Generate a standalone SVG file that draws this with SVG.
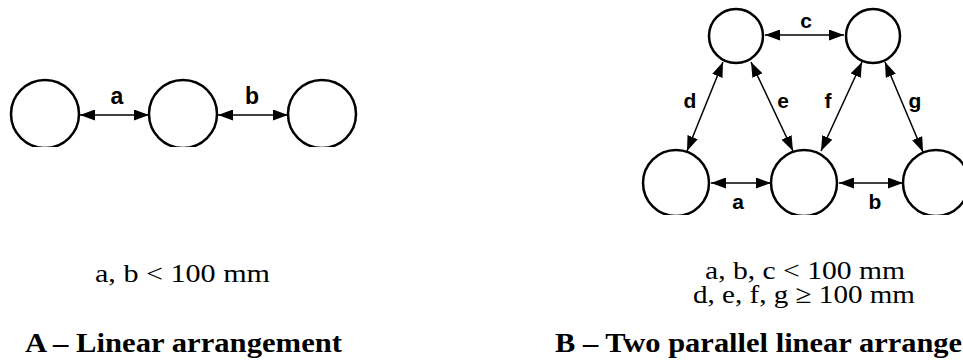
<svg xmlns="http://www.w3.org/2000/svg" width="963" height="360" viewBox="0 0 963 360">
<style>
.node{fill:#fff;stroke:#000;stroke-width:2.5}
.conn{stroke:#000;stroke-width:1.5;fill:none;marker-start:url(#ah);marker-end:url(#ah)}
.lbl{font-family:"Liberation Sans",Arial,sans-serif;font-weight:bold;fill:#000;text-anchor:middle}
.cap{font-family:"Liberation Serif","Times New Roman",serif;font-size:26px;fill:#000}
.ttl{font-family:"Liberation Serif","Times New Roman",serif;font-size:28px;font-weight:bold;fill:#000}
</style>
<defs>
<marker id="ah" viewBox="0 0 15 11" refX="15" refY="5.5" markerWidth="15" markerHeight="11" markerUnits="userSpaceOnUse" orient="auto-start-reverse">
<path d="M0,0 L15,5.5 L0,11 z" fill="#000"/>
</marker>
<clipPath id="clipA"><rect x="0" y="0" width="480" height="147"/></clipPath>
<clipPath id="clipB"><rect x="480" y="0" width="483" height="215"/></clipPath>
</defs>
<rect width="963" height="360" fill="#fff"/>
<g clip-path="url(#clipA)">
<g id="A1"><circle class="node" cx="45" cy="114" r="34"/></g>
<g id="A2"><circle class="node" cx="183" cy="114" r="34"/></g>
<g id="A3"><circle class="node" cx="322" cy="114" r="34"/></g>
</g>
<g clip-path="url(#clipB)">
<g id="B1"><circle class="node" cx="736" cy="36" r="27"/></g>
<g id="B2"><circle class="node" cx="873" cy="36" r="27"/></g>
<g id="B3"><circle class="node" cx="676" cy="183" r="33"/></g>
<g id="B4"><circle class="node" cx="804" cy="183" r="33"/></g>
<g id="B5"><circle class="node" cx="936" cy="183" r="33"/></g>
</g>
<g id="connectors">
<line class="conn" x1="80" y1="115" x2="149" y2="115"/>
<line class="conn" x1="218" y1="115" x2="288" y2="115"/>
<line class="conn" x1="765" y1="35" x2="844" y2="35"/>
<line class="conn" x1="711" y1="183" x2="771" y2="183"/>
<line class="conn" x1="839" y1="183" x2="903" y2="183"/>
<line class="conn" x1="723" y1="62" x2="687" y2="151"/>
<line class="conn" x1="751" y1="62" x2="793" y2="151"/>
<line class="conn" x1="862" y1="62" x2="821" y2="151"/>
<line class="conn" x1="885" y1="62" x2="923" y2="152"/>
</g>
<g id="labels">
<text class="lbl" x="117" y="104" font-size="23">a</text>
<text class="lbl" x="252" y="104" font-size="23">b</text>
<text class="lbl" x="806" y="28" font-size="21">c</text>
<text class="lbl" x="690" y="108" font-size="21">d</text>
<text class="lbl" x="783" y="108" font-size="21">e</text>
<text class="lbl" x="828" y="108" font-size="21">f</text>
<text class="lbl" x="915" y="108" font-size="21">g</text>
<text class="lbl" x="738" y="209" font-size="21">a</text>
<text class="lbl" x="875" y="209" font-size="21">b</text>
</g>
<g id="captions">
<text class="cap" x="95" y="282" font-size="28" textLength="175" lengthAdjust="spacingAndGlyphs">a, b &lt; 100 mm</text>
<text class="ttl" x="25" y="352" textLength="317" lengthAdjust="spacingAndGlyphs">A – Linear arrangement</text>
<text class="cap" x="705" y="279" textLength="200" lengthAdjust="spacingAndGlyphs">a, b, c &lt; 100 mm</text>
<text class="cap" x="693" y="303" textLength="222" lengthAdjust="spacingAndGlyphs">d, e, f, g ≥ 100 mm</text>
<text class="ttl" x="555" y="352" textLength="485" lengthAdjust="spacingAndGlyphs">B – Two parallel linear arrangements</text>
</g>
</svg>
